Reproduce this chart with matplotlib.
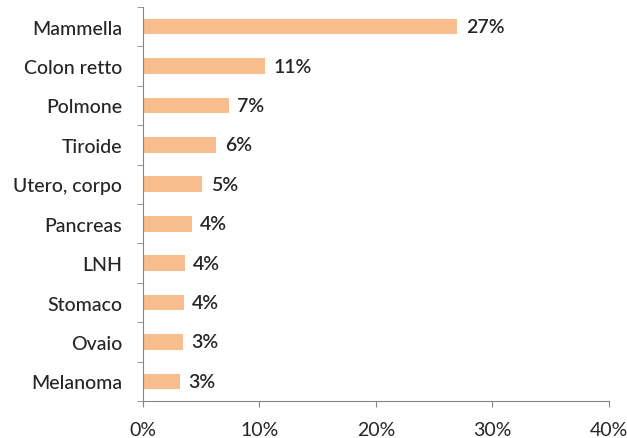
import matplotlib.pyplot as plt
import numpy as np
from matplotlib.ticker import FixedLocator, PercentFormatter

categories = ['Mammella', 'Colon retto', 'Polmone', 'Tiroide', 'Utero, corpo',
              'Pancreas', 'LNH', 'Stomaco', 'Ovaio', 'Melanoma']
values = [27.0, 10.5, 7.4, 6.3, 5.1, 4.2, 3.6, 3.5, 3.4, 3.2]
value_labels = ['27%', '11%', '7%', '6%', '5%', '4%', '4%', '4%', '3%', '3%']

plt.rcParams['font.family'] = ['Lato', 'DejaVu Sans']
text_color = '#262626'
axis_color = '#868686'
fs = 14

fig = plt.figure(figsize=(6.27, 4.39), dpi=100)
ax = fig.add_axes([0.228, 0.084, 0.743, 0.898])

y = np.arange(len(categories))
ax.barh(y, values, height=0.4, color='#F8BD8C')
ax.set_ylim(len(categories) - 0.5, -0.5)
ax.set_xlim(0, 40)

# data labels just right of each bar
for yi, v, lab in zip(y, values, value_labels):
    ax.annotate(lab, (v, yi), xytext=(6, 0), textcoords='offset points',
                va='center', ha='left', fontsize=fs, color=text_color,
                fontweight='semibold')

ax.set_yticks(y)
ax.set_yticklabels(categories, fontsize=fs, color=text_color, fontweight='medium')
ax.tick_params(axis='y', which='major', length=0, pad=15)
ax.yaxis.set_minor_locator(FixedLocator(np.arange(-0.5, len(categories), 1)))
ax.tick_params(axis='y', which='minor', length=4, color=axis_color, direction='out')

ax.set_xticks([0, 10, 20, 30, 40])
ax.xaxis.set_major_formatter(PercentFormatter(decimals=0))
ax.tick_params(axis='x', length=4, color=axis_color, labelsize=fs,
               labelcolor=text_color, pad=10)

for s in ['top', 'right']:
    ax.spines[s].set_visible(False)
for s in ['left', 'bottom']:
    ax.spines[s].set_color(axis_color)

fig.savefig('out.png', dpi=100)
